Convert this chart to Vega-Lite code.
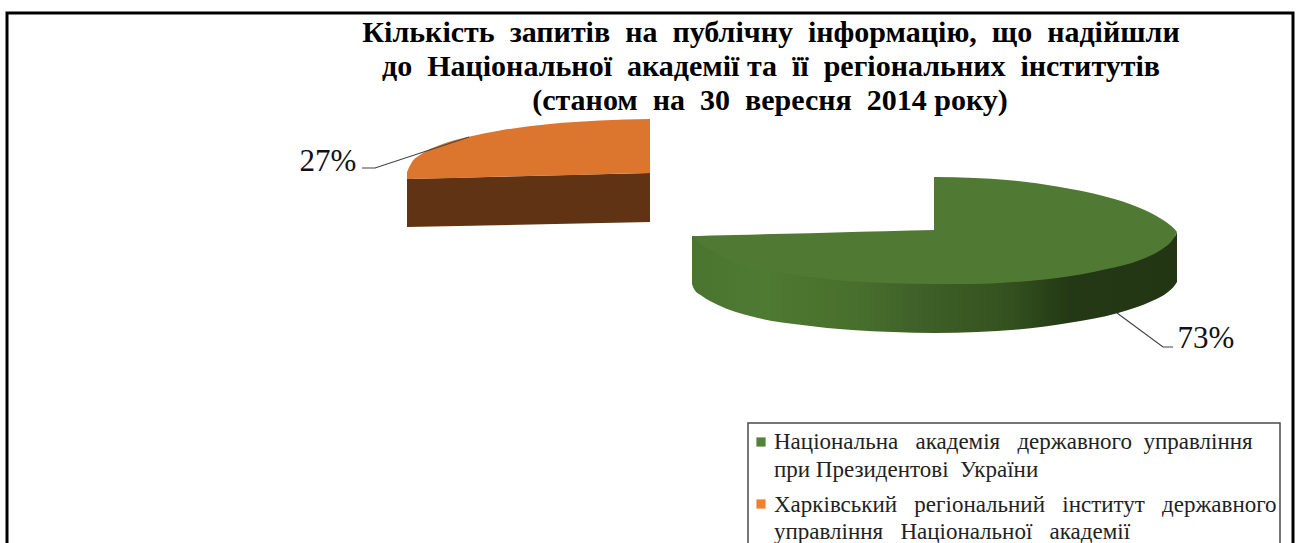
{
"$schema":"https://vega.github.io/schema/vega-lite/v6.json",
"width":1304,"height":543,"padding":0,"autosize":{"type":"none"},
"background":"white","view":{"stroke":null},
"datasets":{
"frame":[{"x":7,"x2":1293,"y":13,"y2":560}],
"legendBox":[{"x":748,"x2":1280,"y":423,"y2":560}],
"greenWall":[{"x":692,"y":236,"y2":284},{"x":694,"y":236,"y2":289},{"x":702,"y":236,"y2":296},{"x":718,"y":240,"y2":305},{"x":752,"y":240,"y2":316.5},{"x":802,"y":240,"y2":325},{"x":852,"y":240,"y2":330},{"x":893,"y":240,"y2":332},{"x":935,"y":240,"y2":333},{"x":977,"y":240,"y2":332},{"x":1018,"y":240,"y2":329.5},{"x":1068,"y":240,"y2":323},{"x":1118,"y":240,"y2":313},{"x":1152,"y":240,"y2":301},{"x":1168,"y":240,"y2":292},{"x":1175,"y":236,"y2":285},{"x":1177,"y":232,"y2":282}],
"greenLeft":[{"x":692,"y":236,"y2":236},{"x":698,"y":235.9,"y2":242},{"x":712,"y":235.5,"y2":251},{"x":735,"y":235,"y2":263},{"x":785,"y":233.7,"y2":273},{"x":835,"y":232.4,"y2":280},{"x":885,"y":231.2,"y2":283},{"x":935,"y":230,"y2":284}],
"greenRight":[{"x":934,"y":177,"y2":284},{"x":975,"y":178,"y2":284},{"x":1007,"y":180,"y2":282.5},{"x":1057,"y":186.5,"y2":278},{"x":1107,"y":197,"y2":269},{"x":1140,"y":208,"y2":260},{"x":1163,"y":220,"y2":248.5},{"x":1170,"y":225,"y2":243},{"x":1175,"y":229.5,"y2":236},{"x":1177,"y":232,"y2":232}],
"orangeWall":[{"x":407,"y":179,"y2":227},{"x":650,"y":173,"y2":222}],
"orangeFace":[{"x":407,"y":172,"y2":179},{"x":412,"y":162,"y2":178.9},{"x":420,"y":155,"y2":178.7},{"x":440,"y":145,"y2":178.2},{"x":470,"y":136.5,"y2":177.4},{"x":500,"y":130.5,"y2":176.7},{"x":550,"y":124,"y2":175.5},{"x":600,"y":120.5,"y2":174.2},{"x":650,"y":119,"y2":173}],
"leaders":[{"g":"a","i":1,"x":362,"y":168},{"g":"a","i":2,"x":375,"y":168},{"g":"a","i":3,"x":469,"y":137},{"g":"b","i":1,"x":1117,"y":313},{"g":"b","i":2,"x":1163,"y":347},{"g":"b","i":3,"x":1173,"y":347}],
"title":[{"x":771,"y":42,"t":"Кількість\u00a0 запитів\u00a0 на\u00a0 публічну\u00a0 інформацію,\u00a0 що\u00a0 надійшли"},{"x":771,"y":76,"t":"до\u00a0 Національної\u00a0 академії та\u00a0 її\u00a0 регіональних\u00a0 інститутів"},{"x":770,"y":110,"t":"(станом\u00a0 на\u00a0 30\u00a0 вересня\u00a0 2014 року)"}],
"pct":[{"x":328,"y":171,"t":"27%"},{"x":1206,"y":348,"t":"73%"}],
"swatch":[{"x":761,"y":442,"name":"Національна академія державного управління при Президентові України"},{"x":761,"y":504,"name":"Харківський регіональний інститут державного управління Національної академії"}],
"legendText":[{"x":774,"y":449,"t":"Національна\u00a0\u00a0 академія\u00a0\u00a0 державного\u00a0 управління"},{"x":774,"y":477,"t":"при Президентові\u00a0 України"},{"x":774,"y":512,"t":"Харківський\u00a0\u00a0 регіональний\u00a0\u00a0 інститут\u00a0\u00a0 державного"},{"x":774,"y":539,"t":"управління\u00a0\u00a0 Національної\u00a0\u00a0 академії"}]
},
"encoding":{
"x":{"field":"x","type":"quantitative","scale":{"domain":[0,1304],"nice":false,"zero":false},"axis":null},
"y":{"field":"y","type":"quantitative","scale":{"domain":[543,0],"nice":false,"zero":false},"axis":null}
},
"layer":[
{"data":{"name":"frame"},"mark":{"type":"rect","fill":"white","stroke":"#000000","strokeWidth":3,"clip":true},"encoding":{"x2":{"field":"x2"},"y2":{"field":"y2"}}},
{"data":{"name":"legendBox"},"mark":{"type":"rect","fill":"white","stroke":"#4a4a4a","strokeWidth":1.5,"clip":true},"encoding":{"x2":{"field":"x2"},"y2":{"field":"y2"}}},
{"data":{"name":"orangeWall"},"mark":{"type":"area","fill":"#5f3314"},"encoding":{"y":{"field":"y","type":"quantitative","stack":null},"y2":{"field":"y2"}}},
{"data":{"name":"orangeFace"},"mark":{"type":"area","fill":"#dc752d","interpolate":"monotone"},"encoding":{"y":{"field":"y","type":"quantitative","stack":null},"y2":{"field":"y2"}}},
{"data":{"name":"greenWall"},"mark":{"type":"area","interpolate":"monotone","fill":{"gradient":"linear","x1":0,"y1":0,"x2":1,"y2":0,"stops":[{"offset":0,"color":"#4a7530"},{"offset":0.15,"color":"#4f7a32"},{"offset":0.35,"color":"#476e2c"},{"offset":0.47,"color":"#3f6028"},{"offset":0.65,"color":"#34521f"},{"offset":0.78,"color":"#233814"},{"offset":1,"color":"#233614"}]}},"encoding":{"y":{"field":"y","type":"quantitative","stack":null},"y2":{"field":"y2"}}},
{"data":{"name":"greenLeft"},"mark":{"type":"area","fill":"#507a33","interpolate":"monotone"},"encoding":{"y":{"field":"y","type":"quantitative","stack":null},"y2":{"field":"y2"}}},
{"data":{"name":"greenRight"},"mark":{"type":"area","fill":"#507a33","interpolate":"monotone"},"encoding":{"y":{"field":"y","type":"quantitative","stack":null},"y2":{"field":"y2"}}},
{"data":{"name":"leaders"},"mark":{"type":"line","color":"#444444","strokeWidth":1.2},"encoding":{"detail":{"field":"g"},"order":{"field":"i"}}},
{"data":{"name":"title"},"mark":{"type":"text","font":"Liberation Serif","fontWeight":"bold","fontSize":30,"align":"center","baseline":"alphabetic","color":"#000000"},"encoding":{"text":{"field":"t"}}},
{"data":{"name":"pct"},"mark":{"type":"text","font":"Liberation Serif","fontSize":31,"align":"center","baseline":"alphabetic","color":"#111111"},"encoding":{"text":{"field":"t"}}},
{"data":{"name":"swatch"},"mark":{"type":"point","shape":"square","filled":true,"size":85,"opacity":1},"encoding":{"color":{"field":"name","type":"nominal","legend":null,"scale":{"domain":["Національна академія державного управління при Президентові України","Харківський регіональний інститут державного управління Національної академії"],"range":["#54823a","#f0812f"]}}}},
{"data":{"name":"legendText"},"mark":{"type":"text","font":"Liberation Serif","fontSize":23,"align":"left","baseline":"alphabetic","color":"#222222"},"encoding":{"text":{"field":"t"}}}
]
}
